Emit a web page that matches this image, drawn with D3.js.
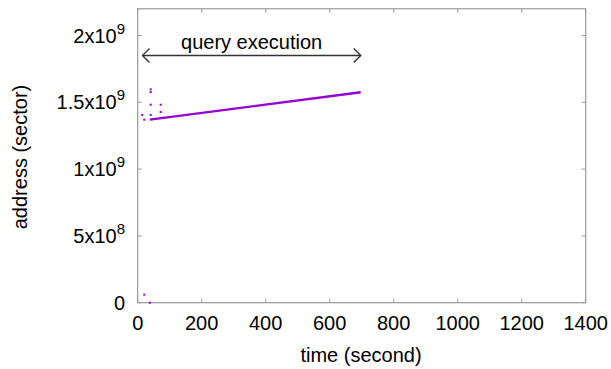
<!DOCTYPE html>
<html><head><meta charset="utf-8">
<script src="https://cdn.jsdelivr.net/npm/d3@7"></script>
<style>body{margin:0;background:#fff}svg{display:block;font-family:"Liberation Sans",Arial,sans-serif}</style>
</head><body><svg id="c" width="611" height="369"></svg>
<script>
// data
const lineTimes = [38, 697];
const lineAddrs = [1.37e9, 1.575e9];
const dotTimes = [40.6, 40.6, 40.6, 71.9, 71.9, 14.4, 20.6, 40.6, 20.6, 38];
const dotAddrs = [1.597e9, 1.577e9, 1.482e9, 1.482e9, 1.427e9, 1.405e9, 1.37e9, 1.405e9, 0.06e9, 0];
const xTicks = [0, 200, 400, 600, 800, 1000, 1200, 1400];
const yTicks = [0, 5e8, 1e9, 1.5e9, 2e9];
const yTickLabels = [["0", ""], ["5x10", "8"], ["1x10", "9"], ["1.5x10", "9"], ["2x10", "9"]];
const arrowSpan = [15, 697];
const arrowAddr = 1.85e9;
const annotation = "query execution";

const svg = d3.select("#c");
const L = 137.7, R = 585.7, T = 9.5, B = 302.7;
const x = d3.scaleLinear().domain([0, 1400]).range([L, R]);
const y = d3.scaleLinear().domain([0, 2.2e9]).range([B, B - 2.2 * 133.6]);
const frame = "#9a9a9a";
const col = "#9400d3";
const fs = 20;

// frame
svg.append("rect").attr("x", L).attr("y", y(2.2e9)).attr("width", R - L).attr("height", B - y(2.2e9))
  .attr("fill", "none").attr("stroke", frame).attr("stroke-width", 1.2);

// ticks (inward, mirrored)
const tl = 4;
xTicks.forEach(t => {
  svg.append("line").attr("x1", x(t)).attr("x2", x(t)).attr("y1", B).attr("y2", B - tl).attr("stroke", frame);
  svg.append("line").attr("x1", x(t)).attr("x2", x(t)).attr("y1", y(2.2e9)).attr("y2", y(2.2e9) + tl).attr("stroke", frame);
  svg.append("text").attr("x", x(t)).attr("y", 330).attr("text-anchor", "middle")
    .attr("font-size", fs).attr("fill", "#000").text(t);
});
yTicks.forEach((t, i) => {
  svg.append("line").attr("x1", L).attr("x2", L + tl).attr("y1", y(t)).attr("y2", y(t)).attr("stroke", frame);
  svg.append("line").attr("x1", R).attr("x2", R - tl).attr("y1", y(t)).attr("y2", y(t)).attr("stroke", frame);
  const tx = svg.append("text").attr("x", 125).attr("y", y(t) + 7).attr("text-anchor", "end")
    .attr("font-size", fs).attr("fill", "#000");
  tx.append("tspan").text(yTickLabels[i][0]);
  if (yTickLabels[i][1]) tx.append("tspan").attr("dy", -9).attr("font-size", 15).text(yTickLabels[i][1]);
});

// axis titles
svg.append("text").attr("x", 361).attr("y", 362).attr("text-anchor", "middle")
  .attr("font-size", fs).text("time (second)");
svg.append("text").attr("transform", `translate(27,157) rotate(-90)`)
  .attr("text-anchor", "middle").attr("font-size", fs).text("address (sector)");

// data line
const line = d3.line().x(d => x(d[0])).y(d => y(d[1]));
svg.append("path").datum(lineTimes.map((t, i) => [t, lineAddrs[i]]))
  .attr("d", line).attr("fill", "none").attr("stroke", col).attr("stroke-width", 2.4);

// dots
svg.selectAll(".dot").data(dotTimes.map((t, i) => [t, dotAddrs[i]])).enter().append("rect")
  .attr("x", d => x(d[0]) - 1).attr("y", d => y(d[1]) - 1).attr("width", 2).attr("height", 2).attr("fill", col);

// arrow annotation
const ay = y(arrowAddr);
const ax1 = x(arrowSpan[0]), ax2 = x(arrowSpan[1]);
svg.append("line").attr("x1", ax1).attr("x2", ax2).attr("y1", ay).attr("y2", ay).attr("stroke", "#333").attr("stroke-width", 1.4);
svg.append("path").attr("d", `M${ax1 + 7},${ay - 7} L${ax1},${ay} L${ax1 + 7},${ay + 7}`).attr("fill", "none").attr("stroke", "#333").attr("stroke-width", 1.4);
svg.append("path").attr("d", `M${ax2 - 7},${ay - 7} L${ax2},${ay} L${ax2 - 7},${ay + 7}`).attr("fill", "none").attr("stroke", "#333").attr("stroke-width", 1.4);
svg.append("text").attr("x", (ax1 + ax2) / 2).attr("y", 49).attr("text-anchor", "middle")
  .attr("font-size", fs).text(annotation);
</script></body></html>
